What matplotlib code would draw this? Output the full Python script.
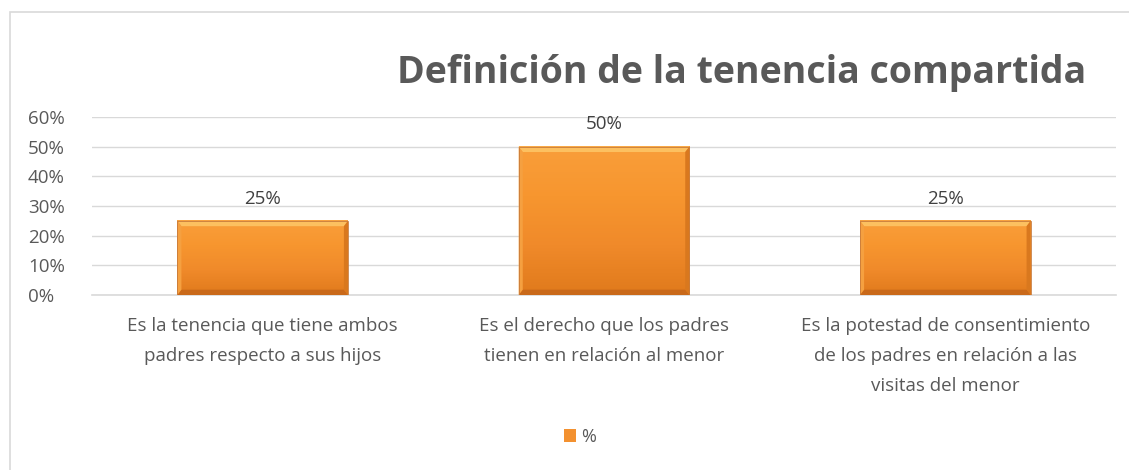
import matplotlib
matplotlib.use("Agg")
import matplotlib.pyplot as plt
import numpy as np
from matplotlib.patches import Rectangle, Polygon
from matplotlib.ticker import PercentFormatter
from matplotlib.colors import LinearSegmentedColormap

categories = [
    "Es la tenencia que tiene ambos\npadres respecto a sus hijos",
    "Es el derecho que los padres\ntienen en relación al menor",
    "Es la potestad de consentimiento\nde los padres en relación a las\nvisitas del menor",
]
values = [0.25, 0.50, 0.25]
value_labels = ["25%", "50%", "25%"]
series_name = "%"
title = "Definición de la tenencia compartida"
yticks = [0, 0.1, 0.2, 0.3, 0.4, 0.5, 0.6]

plt.rcParams['font.family'] = ['Open Sans', 'DejaVu Sans']
W, H = 1129, 470
fig = plt.figure(figsize=(W / 100, H / 100), dpi=100)

# outer border (only top/left visible)
fig.patches.append(Rectangle((10 / W, -0.1), 1.2, 1 - 12 / H + 0.1, transform=fig.transFigure,
                             fill=False, edgecolor='#D9D9D9', linewidth=1.2))

ax = fig.add_axes([92 / W, 1 - 295 / H, (1116 - 92) / W, (295 - 117) / H])
x = np.arange(len(categories))
bars = ax.bar(x, values, width=0.5, color='#F39130', edgecolor='none', linewidth=0, zorder=3,
              label=series_name)

cmap = LinearSegmentedColormap.from_list('o', ['#E07A1C', '#F08A2A', '#F7962F', '#F99E3A'])
grad = np.linspace(0, 1, 100).reshape(-1, 1)
for b in bars:
    bx, by, bw, bh = b.get_x(), b.get_y(), b.get_width(), b.get_height()
    ax.imshow(grad, cmap=cmap, extent=(bx, bx + bw, by, by + bh), origin='lower',
              aspect='auto', zorder=3.5)
    dx = 0.012
    dy = 0.018
    top = by + bh
    ax.add_patch(Polygon([(bx, top), (bx + bw, top), (bx + bw - dx, top - dy), (bx + dx, top - dy)],
                         closed=True, facecolor='#FCC060', edgecolor='none', zorder=4))
    ax.add_patch(Polygon([(bx, by), (bx + bw, by), (bx + bw - dx, by + dy), (bx + dx, by + dy)],
                         closed=True, facecolor='#C9691A', edgecolor='none', zorder=4))
    ax.add_patch(Polygon([(bx, by), (bx, top), (bx + dx, top - dy), (bx + dx, by + dy)],
                         closed=True, facecolor='#F5A040', edgecolor='none', zorder=4))
    ax.add_patch(Polygon([(bx + bw, by), (bx + bw, top), (bx + bw - dx, top - dy), (bx + bw - dx, by + dy)],
                         closed=True, facecolor='#D9781E', edgecolor='none', zorder=4))
    ax.add_patch(Rectangle((bx, by), bw, bh, fill=False, edgecolor='#C87A3A', linewidth=0.6, zorder=4.5))

for xi, v, lab in zip(x, values, value_labels):
    ax.text(xi, v + 0.075, lab, ha='center', va='center', fontsize=13.5, color='#404040')

ax.set_xlim(-0.5, len(categories) - 0.5)
ax.set_ylim(0, 0.6)
ax.set_yticks(yticks)
ax.yaxis.set_major_formatter(PercentFormatter(1.0, decimals=0))
ax.grid(axis='y', color='#D9D9D9', linewidth=1, zorder=0)
for s in ['top', 'right', 'left']:
    ax.spines[s].set_visible(False)
ax.spines['bottom'].set_color('#D9D9D9')
ax.spines['bottom'].set_linewidth(1.2)
ax.tick_params(axis='y', length=0, labelsize=13.5, labelcolor='#595959', pad=46)
ax.tick_params(axis='x', length=0, labelsize=13.5, labelcolor='#595959', pad=16)
ax.set_xticks(x)
ax.set_xticklabels(categories, va='top', linespacing=1.85)
for t in ax.get_yticklabels():
    t.set_horizontalalignment('left')

fig.text(742 / W, 1 - 73 / H, title, ha='center', va='center', fontsize=27,
         fontweight='bold', color='#595959')

fig.legend(handles=[bars], labels=[series_name], loc='center', bbox_to_anchor=(580 / W, 1 - 437 / H),
           frameon=False, fontsize=13, handlelength=0.7, handleheight=0.7, handletextpad=0.3,
           labelcolor='#595959')

fig.savefig("out.png", dpi=100)
